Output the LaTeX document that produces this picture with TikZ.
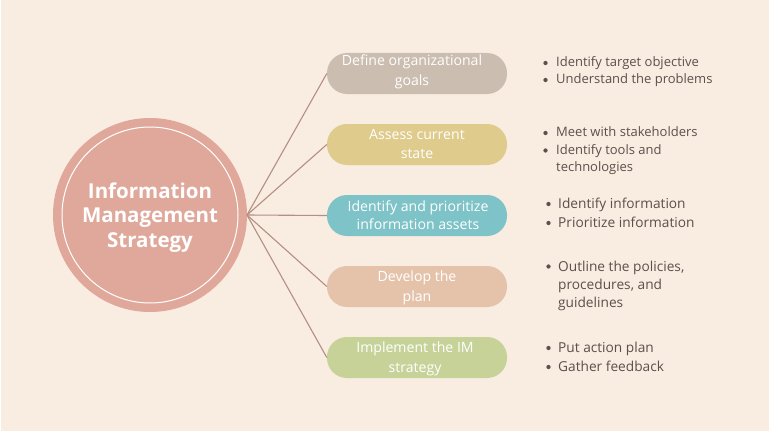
\documentclass[tikz,border=0pt]{standalone}
\usepackage{fontspec}
\setmainfont{Open Sans}
\begin{document}
\begin{tikzpicture}[x=1pt,y=-1pt,
  hub/.style={circle,fill=hubpink,draw=none,minimum size=194pt,inner sep=0pt},
  hubtext/.style={anchor=base,inner sep=0pt,text=white,font=\fontsize{20.5}{24}\selectfont\bfseries},
  pill/.style={rounded corners=20pt,draw=none,minimum width=180pt,minimum height=41pt,inner sep=0pt},
  pilltext/.style={anchor=base,inner sep=0pt,text=white,font=\fontsize{14.1}{19}\selectfont},
  spoke/.style={draw=spokec,line width=1.1pt},
  note/.style={anchor=base west,inner sep=0pt,text=notec,font=\fontsize{13}{18}\selectfont},
  bignote/.style={note,font=\fontsize{13.7}{19}\selectfont},
  bul/.style={circle,fill=notec,inner sep=0pt,minimum size=4.3pt}]
\definecolor{cream}{HTML}{F9ECE1}
\definecolor{hubpink}{HTML}{E0A89B}
\definecolor{spokec}{HTML}{B58E84}
\definecolor{notec}{HTML}{5B504B}
\definecolor{cgrey}{HTML}{CBBDB0}
\definecolor{cyellow}{HTML}{DFCB8C}
\definecolor{cteal}{HTML}{7EC3C7}
\definecolor{cpeach}{HTML}{E5C3AB}
\definecolor{cgreen}{HTML}{C6D298}
\useasboundingbox (0,0) rectangle (778,436);
\fill[white] (0,0) rectangle (778,436);
\fill[cream] (1,0) rectangle (769,431);

% central hub with inner ring
\node[hub] (hub) at (150,215) {};
\draw[white,line width=1pt] (hub.center) circle (88pt);
\node[hubtext] (h1) at (150,198) {Information};
\node[hubtext] (h2) at (150,222.5) {Management};
\node[hubtext] (h3) at (150,247) {Strategy};
\coordinate (src) at (247,215);

% step pills
\node[pill,fill=cgrey]   (p1) at (417,73.5)  {};
\node[pill,fill=cyellow] (p2) at (417,144.5) {};
\node[pill,fill=cteal]   (p3) at (417,215.5) {};
\node[pill,fill=cpeach]  (p4) at (417,286.5) {};
\node[pill,fill=cgreen]  (p5) at (417,357.5) {};

\node[pilltext] (t1a) at (412,66)  {Define organizational};
\node[pilltext] (t1b) at (412,85)  {goals};
\node[pilltext] (t2a) at (417,139) {Assess current};
\node[pilltext] (t2b) at (417,158) {state};
\node[pilltext] (t3a) at (418,211) {Identify and prioritize};
\node[pilltext] (t3b) at (418,229) {information assets};
\node[pilltext] (t4a) at (417,281) {Develop the};
\node[pilltext] (t4b) at (417,301) {plan};
\node[pilltext] (t5a) at (415,352) {Implement the IM};
\node[pilltext] (t5b) at (415,372) {strategy};

\foreach \p in {p1,p2,p3,p4,p5}
  \draw[spoke] (src) -- (\p.west);

% bullet notes
\node[note] (n1a) at (556,66.7)  {Identify target objective};
\node[note] (n1b) at (556,83.5)  {Understand the problems};
\node[bul] at (545.5,63) {}; \node[bul] at (545.5,80) {};
\node[note] (n2a) at (556,136.7) {Meet with stakeholders};
\node[note] (n2b) at (556,154.3) {Identify tools and};
\node[note] (n2c) at (556,171.7) {technologies};
\node[bul] at (545.5,133) {}; \node[bul] at (545.5,150.5) {};
\node[bignote] (n3a) at (558,208.3) {Identify information};
\node[bignote] (n3b) at (558,227.5) {Prioritize information};
\node[bul] at (548.5,204) {}; \node[bul] at (548.5,223) {};
\node[bignote] (n4a) at (558,271)   {Outline the policies,};
\node[bignote] (n4b) at (558,289.5) {procedures, and};
\node[bignote] (n4c) at (558,307.7) {guidelines};
\node[bul] at (548.5,266.5) {};
\node[bignote] (n5a) at (558,352.7) {Put action plan};
\node[bignote] (n5b) at (558,371.7) {Gather feedback};
\node[bul] at (548.5,348) {}; \node[bul] at (548.5,367) {};
\end{tikzpicture}
\end{document}
